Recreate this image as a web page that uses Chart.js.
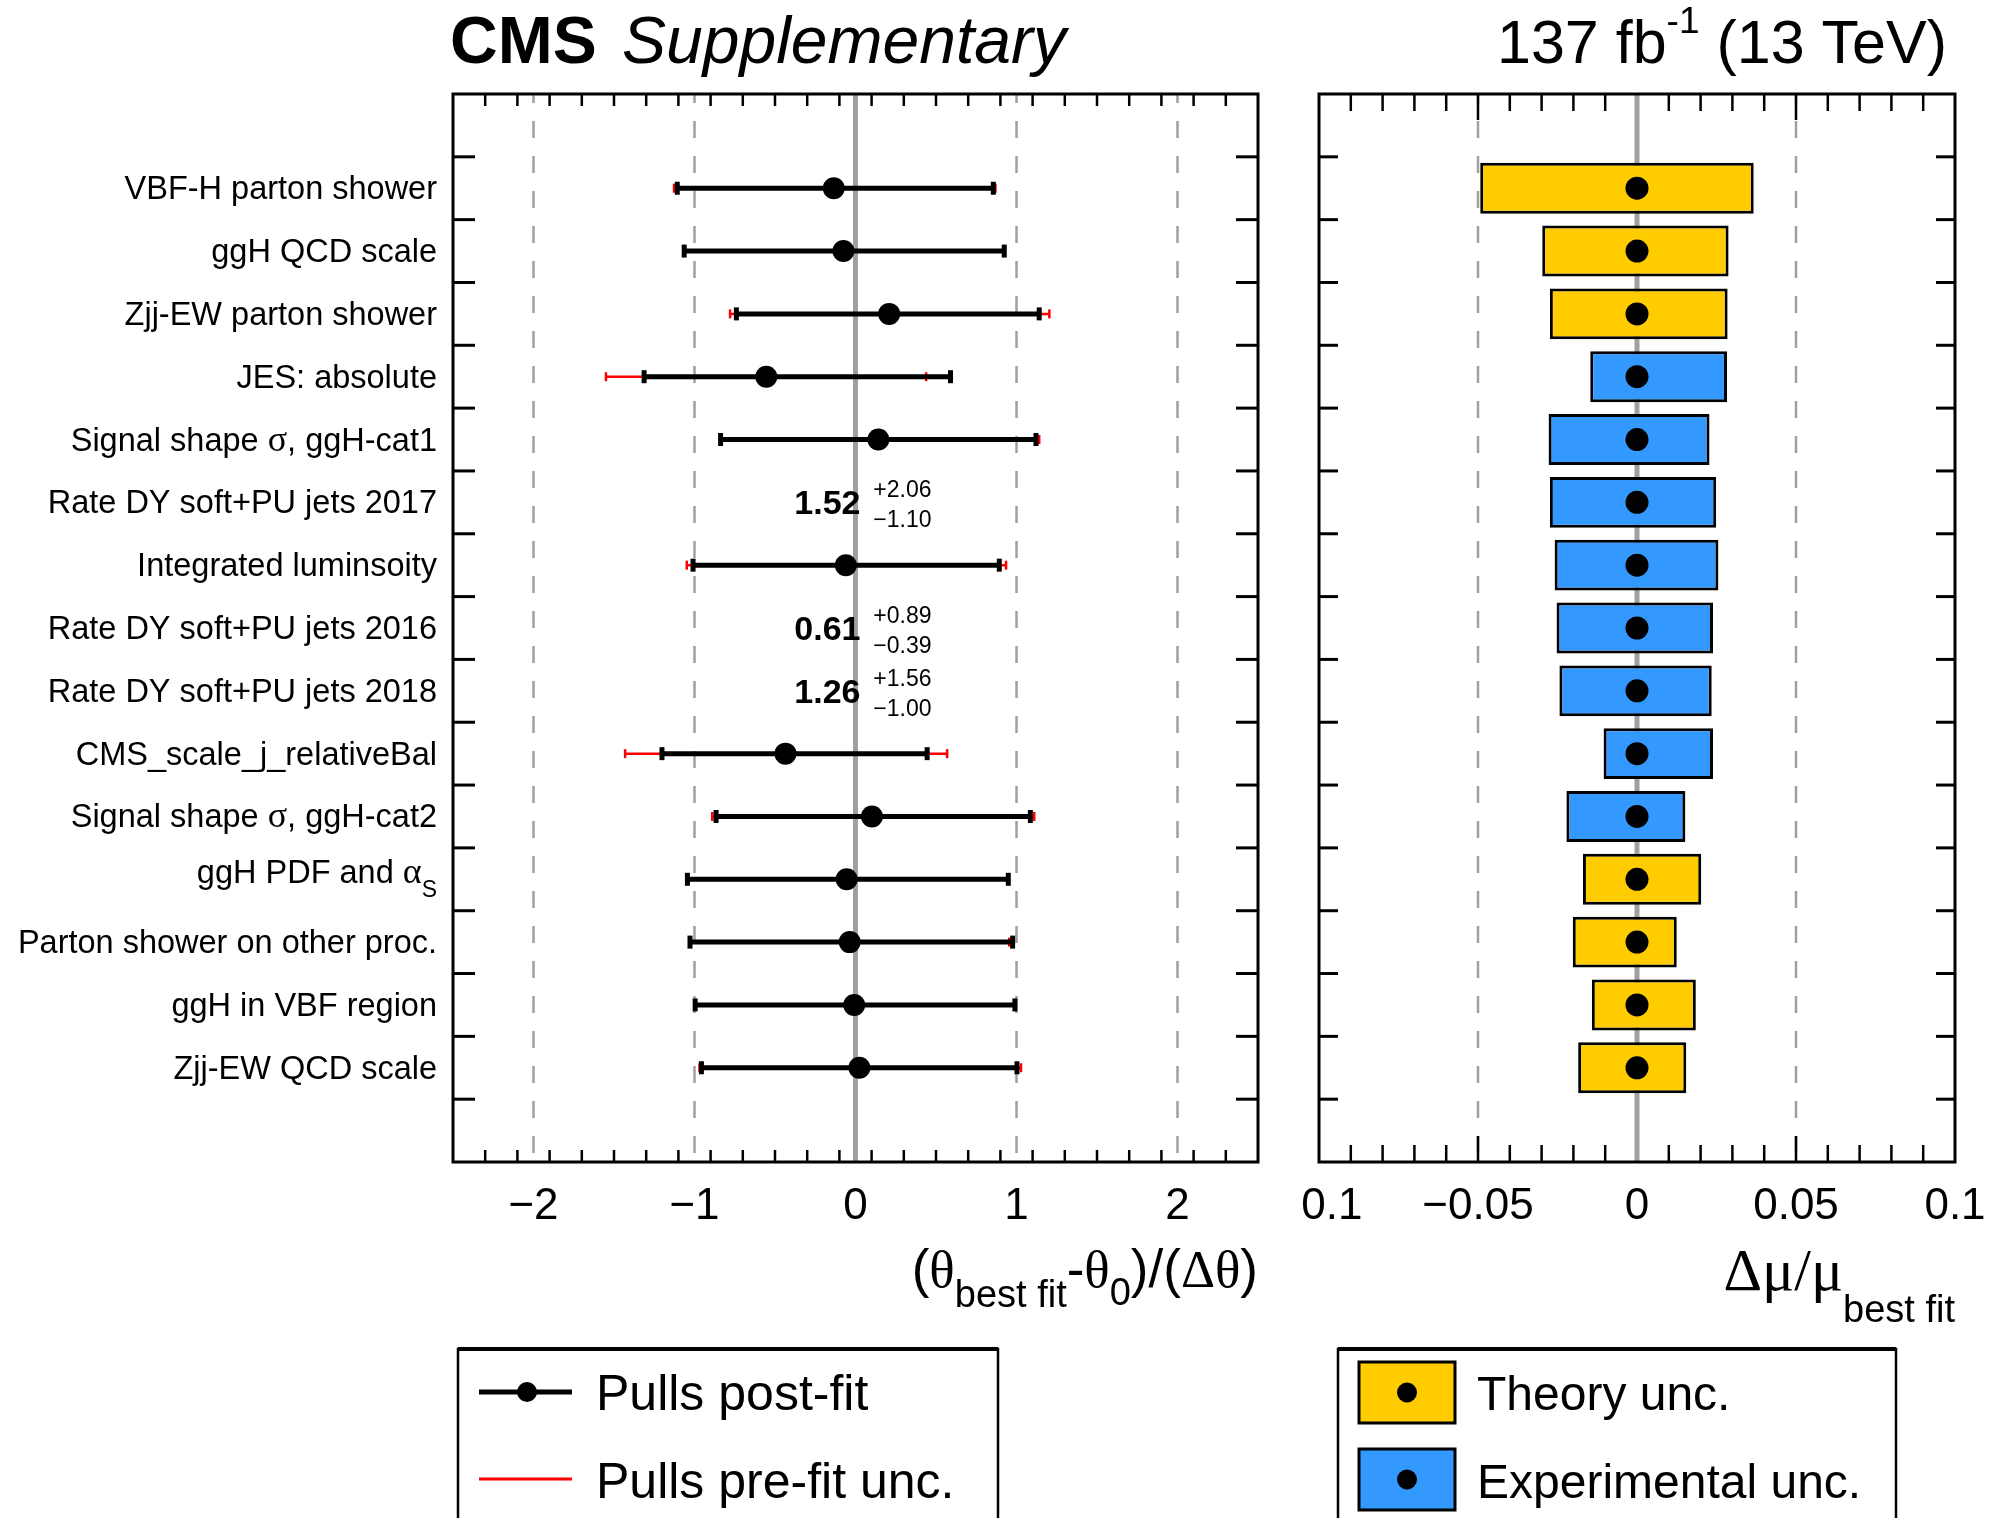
<!DOCTYPE html>
<html>
<head>
<meta charset="utf-8">
<script src="https://cdn.jsdelivr.net/npm/chart.js@4.4.1/dist/chart.umd.min.js"></script>
<style>
  html, body { margin: 0; padding: 0; background: #fff; }
  body { width: 1990px; height: 1518px; position: relative; overflow: hidden; }
  #pulls { position: absolute; left: 0; top: 0; }
  #impacts { position: absolute; left: 1301px; top: 0; }
</style>
</head>
<body>
<canvas id="pulls" width="1300" height="1518"></canvas>
<canvas id="impacts" width="689" height="1518"></canvas>
<script>
// nuisance parameters, top to bottom ({..} = subscript)
const rowLabels = [
  'VBF-H parton shower', 'ggH QCD scale', 'Zjj-EW parton shower', 'JES: absolute',
  'Signal shape σ, ggH-cat1', 'Rate DY soft+PU jets 2017', 'Integrated luminsoity',
  'Rate DY soft+PU jets 2016', 'Rate DY soft+PU jets 2018', 'CMS_scale_j_relativeBal',
  'Signal shape σ, ggH-cat2', 'ggH PDF and α{S}', 'Parton shower on other proc.',
  'ggH in VBF region', 'Zjj-EW QCD scale'
];

// pulls (left panel), null = outside the axis, printed as text instead
const pullValue = [-0.135, -0.075, 0.209, -0.554, 0.142, null, -0.060, null, null, -0.435, 0.102, -0.055, -0.036, -0.008, 0.024];
const postLo = [-1.107, -1.064, -0.740, -1.313, -0.838, null, -1.009, null, null, -1.202, -0.866, -1.044, -1.028, -0.996, -0.957];
const postHi = [0.856, 0.924, 1.141, 0.590, 1.121, null, 0.893, null, null, 0.445, 1.086, 0.949, 0.976, 0.990, 1.003];
const preLo = [-1.127, -1.064, -0.779, -1.550, -0.838, null, -1.048, null, null, -1.431, -0.890, -1.044, -1.028, -0.996, -0.969];
const preHi = [0.869, 0.924, 1.204, 0.439, 1.141, null, 0.935, null, null, 0.569, 1.110, 0.949, 0.955, 0.990, 1.028];
const offValue = [null, null, null, null, null, '1.52', null, '0.61', '1.26', null, null, null, null, null, null];
const offUp = [null, null, null, null, null, '+2.06', null, '+0.89', '+1.56', null, null, null, null, null, null];
const offDown = [null, null, null, null, null, '−1.10', null, '−0.39', '−1.00', null, null, null, null, null, null];

// impacts (right panel)
const impactLo = [-0.0493, -0.0298, -0.0274, -0.0147, -0.0278, -0.0274, -0.0259, -0.0253, -0.0244, -0.0105, -0.0222, -0.0170, -0.0202, -0.0142, -0.0185];
const impactHi = [0.0367, 0.0288, 0.0285, 0.0283, 0.0228, 0.0249, 0.0256, 0.0239, 0.0235, 0.0239, 0.0152, 0.0202, 0.0125, 0.0185, 0.0155];
const impactKind = ['th', 'th', 'th', 'exp', 'exp', 'exp', 'exp', 'exp', 'exp', 'exp', 'exp', 'th', 'th', 'th', 'th'];

const pullTicks = [-2, -1, 0, 1, 2];
const impactTicks = [-0.1, -0.05, 0, 0.05, 0.1];

const SANS = '"Liberation Sans", Arial, Helvetica, sans-serif';
const SERIF = '"Liberation Serif", "DejaVu Serif", serif';
const RED = '#ff0000';
const GRAY = '#a0a0a0';
const YELLOW = '#ffcc00';
const BLUE = '#3399ff';
const NROWS = rowLabels.length + 2;   // one empty slot above and below

function fmt(v) { return v < 0 ? '−' + Math.abs(v) : String(v); }

function seg(ctx, x1, y1, x2, y2) { ctx.beginPath(); ctx.moveTo(x1, y1); ctx.lineTo(x2, y2); ctx.stroke(); }

function richWidth(ctx, parts) {
  let w = 0;
  for (const p of parts) { ctx.font = p.f; w += ctx.measureText(p.t).width; }
  return w;
}
function drawRich(ctx, parts, x, y, align) {
  let cx = align === 'right' ? x - richWidth(ctx, parts) : x;
  ctx.textAlign = 'left';
  ctx.textBaseline = 'alphabetic';
  for (const p of parts) {
    ctx.font = p.f;
    ctx.fillText(p.t, cx, y + (p.dy || 0));
    cx += ctx.measureText(p.t).width;
  }
}
function labelParts(s, size) {
  const parts = [];
  const re = /([σα])|\{([^}]*)\}|([^σα{]+)/g;
  let m;
  while ((m = re.exec(s))) {
    if (m[1]) parts.push({ t: m[1], f: `${Math.round(size * 1.1)}px ${SERIF}` });
    else if (m[2]) parts.push({ t: m[2], f: `${Math.round(size * 0.7)}px ${SANS}`, dy: 14 });
    else parts.push({ t: m[3], f: `${size}px ${SANS}` });
  }
  return parts;
}

// frame, inward ticks and the grey guide lines of one panel
function panelPlugin(cfg) {
  return {
    id: 'panel',
    beforeDatasetsDraw(chart) {
      const { ctx, chartArea: a, scales: { x } } = chart;
      const rowH = (a.bottom - a.top) / NROWS;
      ctx.save();
      ctx.strokeStyle = GRAY;
      ctx.lineWidth = 2.5;
      ctx.setLineDash([17, 18]);
      ctx.lineDashOffset = -27;
      cfg.dashed.forEach(v => { const px = x.getPixelForValue(v); seg(ctx, px, a.top, px, a.bottom); });
      ctx.setLineDash([]);
      ctx.strokeStyle = '#000';
      ctx.lineWidth = 2.5;
      const n = Math.round((cfg.max - cfg.min) / cfg.step);
      for (let k = 1; k < n; k++) {
        const v = cfg.min + k * cfg.step;
        const px = x.getPixelForValue(v);
        const len = cfg.majors.some(m => Math.abs(m - v) < 1e-9) ? cfg.majorLen : cfg.minorLen;
        seg(ctx, px, a.top, px, a.top + len);
        seg(ctx, px, a.bottom, px, a.bottom - len);
      }
      ctx.lineWidth = 3;
      for (let k = 1; k < NROWS; k++) {
        const py = a.top + k * rowH;
        seg(ctx, a.left, py, a.left + cfg.yLen, py);
        seg(ctx, a.right, py, a.right - cfg.yLen, py);
      }
      ctx.strokeStyle = GRAY;
      ctx.lineWidth = 5;
      const x0 = x.getPixelForValue(0);
      seg(ctx, x0, a.top, x0, a.bottom);
      ctx.restore();
    },
    afterDatasetsDraw(chart) {
      const { ctx, chartArea: a } = chart;
      ctx.save();
      ctx.strokeStyle = '#000';
      ctx.lineWidth = 3;
      ctx.strokeRect(a.left, a.top, a.right - a.left, a.bottom - a.top);
      ctx.restore();
    }
  };
}

const xAxisFit = s => { s.height = 90; s.paddingLeft = 0; s.paddingRight = 0; };
const tickFont = { family: SANS, size: 44 };

// ---------- left panel: pulls ----------
function errSegments(lo, hi) {
  const d = [];
  lo.forEach((v, i) => {
    if (v === null) return;
    d.push({ x: v, y: i + 1.5 }, { x: hi[i], y: i + 1.5 }, { x: null, y: null });
  });
  return d;
}
const pullPoints = [];
pullValue.forEach((v, i) => { if (v !== null) pullPoints.push({ x: v, y: i + 1.5 }); });

const pullText = {
  id: 'pullText',
  afterDraw(chart) {
    const { ctx, chartArea: a, scales: { x, y } } = chart;
    ctx.save();
    ctx.fillStyle = '#000';
    // header
    drawRich(ctx, [{ t: 'CMS', f: `bold 66px ${SANS}` }], 450, 63);
    drawRich(ctx, [{ t: 'Supplementary', f: `italic 66px ${SANS}` }], 622, 63);
    // row labels
    rowLabels.forEach((lab, i) => {
      const c = y.getPixelForValue(i + 1.5);
      const sub = lab.includes('{');
      drawRich(ctx, labelParts(lab, 32.5), 437, c + (sub ? 4 : 11), 'right');
    });
    // pulls outside the axis range
    const x0 = x.getPixelForValue(0);
    offValue.forEach((v, i) => {
      if (v === null) return;
      const c = y.getPixelForValue(i + 1.5);
      drawRich(ctx, [{ t: v, f: `bold 34px ${SANS}` }], x0 + 5, c + 12, 'right');
      drawRich(ctx, [{ t: offUp[i], f: `23px ${SANS}` }], x0 + 76, c - 5, 'right');
      drawRich(ctx, [{ t: offDown[i], f: `23px ${SANS}` }], x0 + 76, c + 25, 'right');
    });
    // axis title
    const m = `53px ${SANS}`, g = `53px ${SERIF}`, s = `38px ${SANS}`;
    drawRich(ctx, [
      { t: '(', f: m }, { t: 'θ', f: g }, { t: 'best fit', f: s, dy: 20 }, { t: '-', f: m },
      { t: 'θ', f: g }, { t: '0', f: s, dy: 18 }, { t: ')/(', f: m }, { t: 'Δθ', f: g }, { t: ')', f: m }
    ], a.right, 1287, 'right');
    // legend
    ctx.strokeStyle = '#000';
    ctx.lineWidth = 2.5;
    ctx.strokeRect(458, 1349, 540, 220);
    ctx.lineWidth = 4;
    seg(ctx, 458, 1349, 998, 1349);
    ctx.lineWidth = 5;
    seg(ctx, 479, 1392, 572, 1392);
    ctx.beginPath(); ctx.arc(527, 1392, 10, 0, Math.PI * 2); ctx.fill();
    ctx.strokeStyle = RED;
    ctx.lineWidth = 3;
    seg(ctx, 479, 1479, 572, 1479);
    drawRich(ctx, [{ t: 'Pulls post-fit', f: `50px ${SANS}` }], 596, 1410);
    drawRich(ctx, [{ t: 'Pulls pre-fit unc.', f: `50px ${SANS}` }], 596, 1498);
    ctx.restore();
  }
};

new Chart(document.getElementById('pulls'), {
  type: 'scatter',
  data: {
    datasets: [
      {
        label: 'Pulls pre-fit unc.', data: errSegments(preLo, preHi), showLine: true, spanGaps: false,
        borderColor: RED, borderWidth: 2.5, pointStyle: 'line', pointRotation: 90, pointRadius: 4.5,
        pointBorderWidth: 2.5, pointBorderColor: RED, order: 4
      },
      {
        label: 'Pulls post-fit', data: errSegments(postLo, postHi), showLine: true, spanGaps: false,
        borderColor: '#000', borderWidth: 5, pointStyle: 'line', pointRotation: 90, pointRadius: 6.5,
        pointBorderWidth: 5, pointBorderColor: '#000', order: 3
      },
      {
        label: 'best fit', data: pullPoints, pointStyle: 'circle', pointRadius: 11,
        pointBackgroundColor: '#000', pointBorderWidth: 0, order: 1
      }
    ]
  },
  options: {
    responsive: false, animation: false, devicePixelRatio: 1, events: [],
    layout: { autoPadding: false, padding: { left: 453, right: 42, top: 94, bottom: 266 } },
    plugins: { legend: { display: false }, tooltip: { enabled: false } },
    scales: {
      x: {
        type: 'linear', min: -2.5, max: 2.5,
        afterBuildTicks: s => { s.ticks = pullTicks.map(v => ({ value: v })); },
        afterFit: xAxisFit,
        grid: { display: false, drawTicks: false }, border: { display: false },
        ticks: { font: tickFont, color: '#000', padding: 18, maxRotation: 0, autoSkip: false, callback: v => fmt(v) }
      },
      y: { type: 'linear', min: 0, max: NROWS, reverse: true, display: false }
    }
  },
  plugins: [panelPlugin({ min: -2.5, max: 2.5, step: 0.2, majors: pullTicks, dashed: [-2, -1, 1, 2], majorLen: 24, minorLen: 12, yLen: 22 }), pullText]
});

// ---------- right panel: impacts ----------
const slotLabels = [''].concat(rowLabels, ['']);
const pad = arr => [null].concat(arr, [null]);
const theoryBars = pad(impactLo.map((lo, i) => impactKind[i] === 'th' ? [lo, impactHi[i]] : null));
const expBars = pad(impactLo.map((lo, i) => impactKind[i] === 'exp' ? [lo, impactHi[i]] : null));
const impactCentre = pad(rowLabels.map(() => 0));

const impactText = {
  id: 'impactText',
  afterDraw(chart) {
    const { ctx, chartArea: a } = chart;
    ctx.save();
    ctx.fillStyle = '#000';
    drawRich(ctx, [
      { t: '137 fb', f: `61px ${SANS}` }, { t: '-1', f: `37px ${SANS}`, dy: -30 }, { t: ' (13 TeV)', f: `61px ${SANS}` }
    ], 646, 63, 'right');
    drawRich(ctx, [
      { t: 'Δμ/μ', f: `60px ${SERIF}` }, { t: 'best fit', f: `38px ${SANS}`, dy: 32 }
    ], a.right, 1290, 'right');
    // legend
    ctx.strokeStyle = '#000';
    ctx.lineWidth = 2.5;
    ctx.strokeRect(37, 1349, 558, 220);
    ctx.lineWidth = 4;
    seg(ctx, 37, 1349, 595, 1349);
    [[YELLOW, 1362, 'Theory unc.', 1410], [BLUE, 1449, 'Experimental unc.', 1498]].forEach(([col, top, txt, base]) => {
      ctx.fillStyle = col;
      ctx.fillRect(58, top, 96, 61);
      ctx.lineWidth = 3;
      ctx.strokeRect(58, top, 96, 61);
      ctx.fillStyle = '#000';
      ctx.beginPath(); ctx.arc(106, top + 30.5, 10, 0, Math.PI * 2); ctx.fill();
      drawRich(ctx, [{ t: txt, f: `48px ${SANS}` }], 176, base);
    });
    ctx.restore();
  }
};

new Chart(document.getElementById('impacts'), {
  type: 'bar',
  data: {
    labels: slotLabels,
    datasets: [
      {
        type: 'line', label: 'best fit', indexAxis: 'y', data: impactCentre, showLine: false,
        pointRadius: 11.5, pointBackgroundColor: '#000', pointBorderWidth: 0, order: 0
      },
      {
        label: 'Theory unc.', data: theoryBars, backgroundColor: YELLOW, borderColor: '#000', borderWidth: 3,
        borderSkipped: false, grouped: false, barPercentage: 0.81, categoryPercentage: 1, order: 1
      },
      {
        label: 'Experimental unc.', data: expBars, backgroundColor: BLUE, borderColor: '#000', borderWidth: 3,
        borderSkipped: false, grouped: false, barPercentage: 0.81, categoryPercentage: 1, order: 2
      }
    ]
  },
  options: {
    indexAxis: 'y',
    responsive: false, animation: false, devicePixelRatio: 1, events: [],
    layout: { autoPadding: false, padding: { left: 18, right: 35, top: 94, bottom: 266 } },
    plugins: { legend: { display: false }, tooltip: { enabled: false } },
    scales: {
      x: {
        type: 'linear', min: -0.1, max: 0.1,
        afterBuildTicks: s => { s.ticks = impactTicks.map(v => ({ value: v })); },
        afterFit: xAxisFit,
        grid: { display: false, drawTicks: false }, border: { display: false },
        ticks: { font: tickFont, color: '#000', padding: 18, maxRotation: 0, autoSkip: false, callback: v => fmt(v) }
      },
      y: { type: 'category', display: false, offset: true }
    }
  },
  plugins: [panelPlugin({ min: -0.1, max: 0.1, step: 0.01, majors: impactTicks, dashed: [-0.05, 0.05], majorLen: 26, minorLen: 17, yLen: 19 }), impactText]
});
</script>
</body>
</html>
